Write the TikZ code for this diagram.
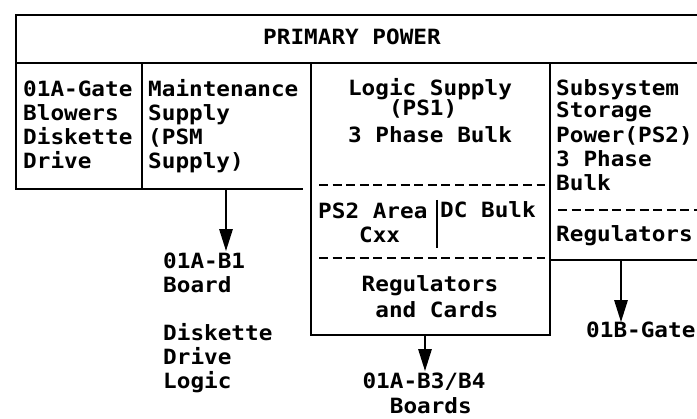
\documentclass[tikz,border=0pt]{standalone}
\usepackage{fontspec}
\usetikzlibrary{arrows.meta}
\newfontfamily\ibmfont[FakeStretch=1.08]{DejaVu Sans Mono}
\begin{document}
\begin{tikzpicture}[x=1pt,y=-1pt,
  box/.style={line width=2.7pt},
  dashline/.style={line width=2.3pt, dash pattern=on 9pt off 4.6pt},
  txt/.style={font=\ibmfont\bfseries\fontsize{21}{24}\selectfont, inner sep=0pt},
  conn/.style={line width=2.7pt, -{Triangle[width=13pt,length=22pt]}}]
\clip (0,0) rectangle (697,419);
% boxes
\draw[box] (16,15) rectangle (720,63);
\draw[box] (16,63) -- (16,189) -- (303,189);
\draw[box] (142,63) -- (142,189);
\draw[box] (311,63) rectangle (550,335);
\draw[box] (550,63) -- (550,260) -- (720,260);
\draw[dashline] (319,185) -- (545,185);
\draw[dashline] (319,258) -- (545,258);
\draw[dashline] (558,210) -- (700,210);
\draw[box] (437,200) -- (437,248);
% texts (first line baseline = node top + 16.8pt via \strut)
\node[txt, anchor=base] (pp) at (352,45) {PRIMARY POWER};
\node[txt, anchor=north west, align=left] (gate) at (23,79.2) {\strut 01A-Gate\\Blowers\\Diskette\\Drive};
\node[txt, anchor=north west, align=left] (maint) at (148,79.2) {\strut Maintenance\\Supply\\(PSM\\Supply)};
\node[txt, anchor=north, align=center] (logic) at (430,78.2) {\strut Logic Supply\\[-4pt](PS1)\hphantom{x}\\[3pt]3 Phase Bulk};
\node[txt, anchor=north west, align=left] (ss) at (556,78.2) {\strut Subsystem\\[-2pt]Storage\\[1pt]Power(PS2)\\3 Phase\\Bulk};
\node[txt, anchor=base west] (ssreg) at (556,242) {Regulators};
\node[txt, anchor=north west, align=left] (ps2) at (318,201.2) {\strut PS2 Area\\\hphantom{xxx}Cxx};
\node[txt, anchor=base west] (dcbulk) at (440,218) {DC Bulk};
\node[txt, anchor=north, align=center] (regc) at (430,274.2) {\strut Regulators\\[2pt]\hphantom{x}and Cards};
\node[txt, anchor=north west, align=left] (b1) at (163,251.2) {\strut 01A-B1\\Board\\[24pt]Diskette\\Drive\\Logic};
\node[txt, anchor=north, align=center] (b34) at (424,371.2) {\strut 01A-B3/B4\\[1pt]\hphantom{x}Boards};
\node[txt, anchor=base west] (g01b) at (586,338) {01B-Gate};
% connectors
\coordinate (a1) at (226,189);
\coordinate (a2) at (425,335);
\coordinate (a3) at (621,260);
\draw[conn] (a1) -- (a1 |- b1.north);
\draw[conn] (a2) -- (a2 |- b34.north);
\draw[conn] (a3) -- (a3 |- g01b.north);
\end{tikzpicture}
\end{document}
